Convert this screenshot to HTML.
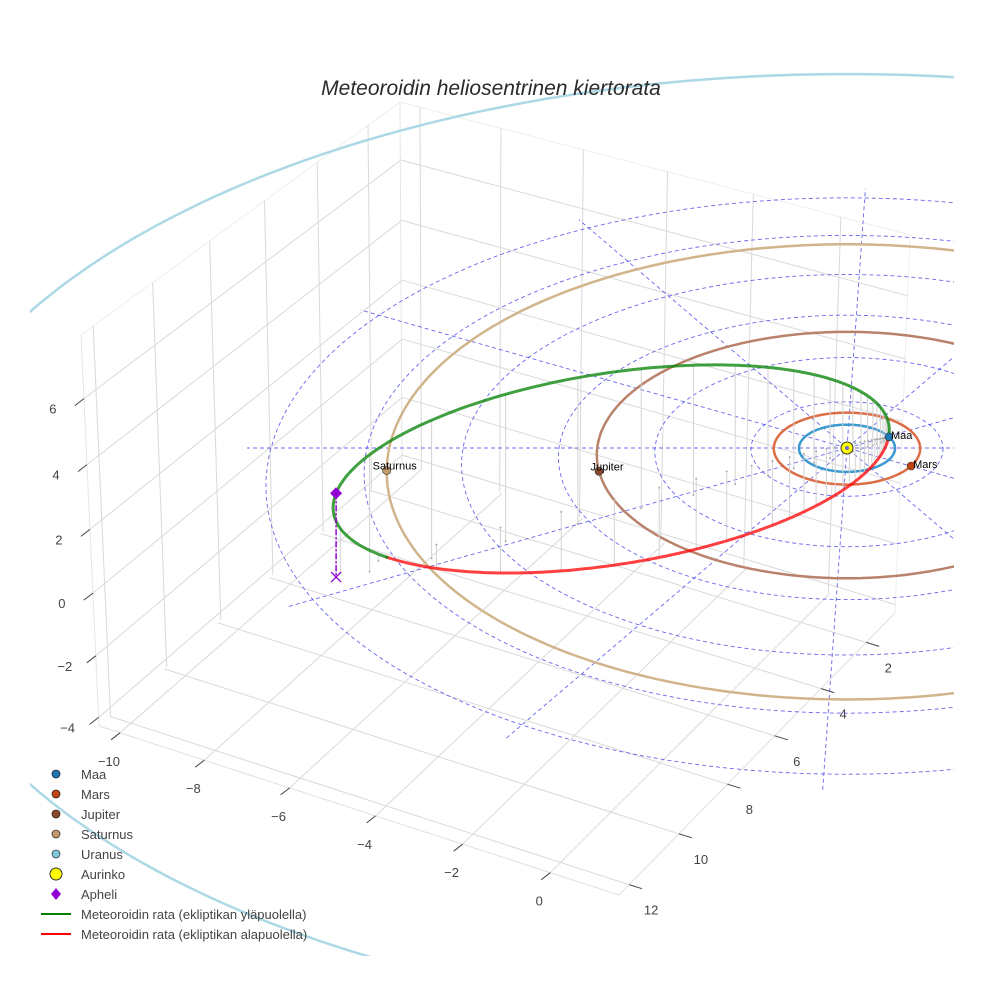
<!DOCTYPE html>
<html><head><meta charset="utf-8">
<style>
html,body{margin:0;padding:0;background:#fff;}
svg{display:block;font-family:"Liberation Sans",sans-serif;}
</style></head>
<body>
<svg id="chart" width="984" height="984" viewBox="0 0 984 984" xmlns="http://www.w3.org/2000/svg">
  <defs>
    <clipPath id="sceneClip"><rect x="30" y="30" width="924" height="926"/></clipPath>
  </defs>
  <rect x="0" y="0" width="984" height="984" fill="#fff"/>
  <g id="box"></g>
  <g id="ticks"></g>
  <g id="data" clip-path="url(#sceneClip)"></g>
  <text x="491" y="95" text-anchor="middle" font-size="21" font-style="italic" fill="#2a2a2a">Meteoroidin heliosentrinen kiertorata</text>
  <g id="legend" font-size="13" fill="#444">
    <g><circle cx="56" cy="774" r="4" fill="#1f77b4" stroke="#223" stroke-width="0.8"/><text x="81" y="779">Maa</text></g>
    <g><circle cx="56" cy="794" r="4" fill="#c1440e" stroke="#322" stroke-width="0.8"/><text x="81" y="799">Mars</text></g>
    <g><circle cx="56" cy="814" r="4" fill="#8b4a2b" stroke="#322" stroke-width="0.8"/><text x="81" y="819">Jupiter</text></g>
    <g><circle cx="56" cy="834" r="4" fill="#c19a6b" stroke="#433" stroke-width="0.8"/><text x="81" y="839">Saturnus</text></g>
    <g><circle cx="56" cy="854" r="4" fill="#7fc7d9" stroke="#344" stroke-width="0.8"/><text x="81" y="859">Uranus</text></g>
    <g><circle cx="56" cy="874" r="6" fill="#ffff00" stroke="#333" stroke-width="1"/><text x="81" y="879">Aurinko</text></g>
    <g><path d="M56 888 L61 894 L56 900 L51 894 Z" fill="#9400d3"/><text x="81" y="899">Apheli</text></g>
    <g><line x1="41" y1="914" x2="71" y2="914" stroke="#008000" stroke-width="2"/><text x="81" y="919">Meteoroidin rata (ekliptikan yläpuolella)</text></g>
    <g><line x1="41" y1="934" x2="71" y2="934" stroke="#ff0000" stroke-width="2"/><text x="81" y="939">Meteoroidin rata (ekliptikan alapuolella)</text></g>
  </g>
</svg>
<script>
// ---- data arrays ----
const planetNames = ['Maa','Mars','Jupiter','Saturnus','Uranus'];
const planetRadii = [1.0, 1.524, 5.203, 9.537, 19.19];
const planetAngles = [-28.4, 29.7, 169.2, 174.3, -50];
const orbitColors = ['#3d9ad1','#dc6d45','#b9826a','#d2b48c','#add8e6'];
const markerColors = ['#1f77b4','#c1440e','#8b4a2b','#c19a6b','#7fc7d9'];
const gridRadii = [2, 4, 6, 8, 10, 12];
const spokeAngles = [0, 30, 60, 92, 120, 150];
const spokeLength = [12.5];
const meteorSemiLatus = [1.762];
const meteorEcc = [0.848];
const meteorNode = [154];
const meteorIncl = [95.1];
const meteorAphArg = [13.2];
const xTicks = [-10, -8, -6, -4, -2, 0];
const yTicks = [2, 4, 6, 8, 10, 12];
const zTicks = [-4, -2, 0, 2, 4, 6];
const xRange = [-10.5, 1.55];
const yRange = [0.7, 12.4];
const zRange = [-4.28, 7.9];

const NS = 'http://www.w3.org/2000/svg';
function mk(tag, parent){ const e = document.createElementNS(NS, tag); parent.appendChild(e); return e; }

// ---- projection of data (heliocentric ecliptic frame) ----
const SUN = [847, 448], SX = 48, SY = 23.6, SZ = 30, ALPHA = 0.011;
function proj(X, Y, Z){
  const k = 1 / (1 - ALPHA * Y);
  return [SUN[0] + SX * X * k, SUN[1] + SY * Y * k - SZ * Z * k];
}
function polar(r, deg, z){ const a = deg * Math.PI / 180; return proj(r*Math.cos(a), r*Math.sin(a), z||0); }

// ---- box faces (homographies) ----
function quad(p0,p1,p2,p3){
  const [x0,y0]=p0,[x1,y1]=p1,[x2,y2]=p2,[x3,y3]=p3;
  const dx1=x1-x2, dx2=x3-x2, dx3=x0-x1+x2-x3, dy1=y1-y2, dy2=y3-y2, dy3=y0-y1+y2-y3;
  const den = dx1*dy2 - dx2*dy1;
  const g = (dx3*dy2 - dx2*dy3)/den, h = (dx1*dy3 - dx3*dy1)/den;
  const a=x1-x0+g*x1, b=x3-x0+h*x3, c=x0, d=y1-y0+g*y1, e=y3-y0+h*y3, f=y0;
  return (u,v)=>{ const w=g*u+h*v+1; return [(a*u+b*v+c)/w,(d*u+e*v+f)/w]; };
}
const B=[402,463], R=[895,613], F=[619,895], L=[99,726], Bt=[400,102], Lt=[81,335], Rt=[910,235];
const floorF = quad(B,R,F,L);
const leftF = quad(B,L,Lt,Bt);
const rightF = quad(B,R,Rt,Bt);
const fx = x => (x - xRange[0])/(xRange[1]-xRange[0]);
const fy = y => (y - yRange[0])/(yRange[1]-yRange[0]);
const fz = z => (z - zRange[0])/(zRange[1]-zRange[0]);

const box = document.getElementById('box');
function seg(parent, a, b, col, w, name){
  const l = mk('line', parent);
  
  
  l.setAttribute('x1', a[0].toFixed(1)); l.setAttribute('y1', a[1].toFixed(1));
  l.setAttribute('x2', b[0].toFixed(1)); l.setAttribute('y2', b[1].toFixed(1));
  l.setAttribute('stroke', col); l.setAttribute('stroke-width', w);
  return l;
}
const GC = '#d9d9d9';
seg(box, B, Bt, '#e6e6e6', 1, 'back-edge');
seg(box, L, Lt, '#e6e6e6', 1, 'left-edge');
seg(box, R, Rt, '#eeeeee', 1, 'right-edge');
seg(box, Lt, Bt, '#eeeeee', 1, 'left-top-edge');
seg(box, Bt, Rt, '#eeeeee', 1, 'right-top-edge');
seg(box, L, F, '#e0e0e0', 1, 'floor-front-left-edge');
seg(box, F, R, '#e0e0e0', 1, 'floor-front-right-edge');
xTicks.forEach(x=>{
  seg(box, floorF(fx(x),0), floorF(fx(x),1), GC, 1, 'floor-grid-x');
  seg(box, rightF(fx(x),0), rightF(fx(x),1), GC, 1, 'wall-grid-x');
});
yTicks.forEach(y=>{
  seg(box, floorF(0,fy(y)), floorF(1,fy(y)), GC, 1, 'floor-grid-y');
  seg(box, leftF(fy(y),0), leftF(fy(y),1), GC, 1, 'wall-grid-y');
});
zTicks.forEach(z=>{
  seg(box, leftF(0,fz(z)), leftF(1,fz(z)), GC, 1, 'wall-grid-z-left');
  seg(box, rightF(0,fz(z)), rightF(1,fz(z)), GC, 1, 'wall-grid-z-right');
});

// ---- ticks & labels ----
const tk = document.getElementById('ticks');
function label(p, txt, name){
  const t = mk('text', tk);
  
  
  t.setAttribute('x', p[0].toFixed(1)); t.setAttribute('y', p[1].toFixed(1));
  t.setAttribute('text-anchor', 'middle'); t.setAttribute('font-size', '13'); t.setAttribute('fill', '#444');
  t.textContent = txt;
}
const fmt = v => v < 0 ? '\u2212' + Math.abs(v) : String(v);
xTicks.forEach(x=>{
  const e = floorF(fx(x),1);
  seg(tk, e, [e[0]-9, e[1]+7], '#444', 1, 'x-tick');
  label([e[0]-11, e[1]+33], fmt(x), 'x-tick-label');
});
yTicks.forEach(y=>{
  const e = floorF(1,fy(y));
  seg(tk, e, [e[0]+13, e[1]+4], '#444', 1, 'y-tick');
  label([e[0]+22, e[1]+30], fmt(y), 'y-tick-label');
});
zTicks.forEach(z=>{
  const e = leftF(1,fz(z));
  seg(tk, e, [e[0]-9, e[1]+7], '#444', 1, 'z-tick');
  label([e[0]-31, e[1]+15], fmt(z), 'z-tick-label');
});

// ---- data ----
const dg = document.getElementById('data');
function path(parent, pts, name){
  const p = mk('path', parent);
  
  
  p.setAttribute('d', pts.map((q,i)=>(i?'L':'M')+q[0].toFixed(1)+' '+q[1].toFixed(1)).join(''));
  p.setAttribute('fill', 'none');
  return p;
}
gridRadii.forEach(r=>{
  const pts=[]; for(let i=0;i<=180;i++) pts.push(polar(r, i*2));
  const p = path(dg, pts, 'ecliptic-grid-circle');
  p.setAttribute('stroke', 'rgba(40,40,230,0.7)'); p.setAttribute('stroke-width', '0.9'); p.setAttribute('stroke-dasharray', '4,3');
});
spokeAngles.forEach(a=>{
  const p = path(dg, [polar(spokeLength[0], a), polar(spokeLength[0], a+180)], 'ecliptic-grid-spoke');
  p.setAttribute('stroke', 'rgba(40,40,230,0.7)'); p.setAttribute('stroke-width', '0.9'); p.setAttribute('stroke-dasharray', '4,3');
});
planetRadii.forEach((r,i)=>{
  const pts=[]; for(let j=0;j<=360;j++) pts.push(polar(r, j));
  const p = path(dg, pts, 'orbit-' + planetNames[i].toLowerCase());
  p.setAttribute('stroke', orbitColors[i]); p.setAttribute('stroke-width', '2.5');
});
const P = meteorSemiLatus[0], E = meteorEcc[0];
const om = meteorNode[0]*Math.PI/180, inc = meteorIncl[0]*Math.PI/180, phA = meteorAphArg[0]*Math.PI/180;
function meteor(nuDeg){
  const nu = nuDeg*Math.PI/180, r = P/(1+E*Math.cos(nu)), ph = nu + phA + Math.PI;
  const a = r*Math.cos(ph), b = r*Math.sin(ph)*Math.cos(inc);
  return [a*Math.cos(om) - b*Math.sin(om), a*Math.sin(om) + b*Math.cos(om), r*Math.sin(ph)*Math.sin(inc)];
}
const samples=[]; for(let i=0;i<=720;i++) samples.push(meteor(-180 + i*0.5));
samples.forEach((s,i)=>{
  if(i%12!==0) return;
  const a = proj(s[0],s[1],s[2]), b = proj(s[0],s[1],0);
  seg(dg, a, b, '#d2d2d2', 1, 'drop-line');
  const d = mk('circle', dg);
  
  
  d.setAttribute('cx', b[0].toFixed(1)); d.setAttribute('cy', b[1].toFixed(1)); d.setAttribute('r', '1'); d.setAttribute('fill', '#aaa');
});
let cur=[], curSign=samples[0][2]>=0;
function flush(){
  if(cur.length<2) return;
  const p = path(dg, cur, curSign ? 'meteoroid-orbit-above' : 'meteoroid-orbit-below');
  p.setAttribute('stroke', curSign ? 'rgba(0,128,0,0.75)' : 'rgba(255,0,0,0.75)');
  p.setAttribute('stroke-width', '3'); p.setAttribute('stroke-linecap', 'round');
}
samples.forEach(s=>{
  const sg = s[2]>=0, q = proj(s[0],s[1],s[2]);
  if(sg!==curSign){ cur.push(q); flush(); cur=[q]; curSign=sg; } else cur.push(q);
});
flush();
const aph = meteor(180), aphTop = proj(aph[0],aph[1],aph[2]), aphBot = proj(aph[0],aph[1],0);
const al = seg(dg, aphTop, aphBot, '#9400d3', 1.5, 'aphelion-drop-line');
al.setAttribute('stroke-dasharray', '6,2,2,2');
const x1 = mk('path', dg);


x1.setAttribute('d', `M${aphBot[0]-5} ${aphBot[1]-5}L${aphBot[0]+5} ${aphBot[1]+5}M${aphBot[0]-5} ${aphBot[1]+5}L${aphBot[0]+5} ${aphBot[1]-5}`);
x1.setAttribute('stroke', '#9400d3'); x1.setAttribute('stroke-width', '1.3');
const dm = mk('path', dg);


dm.setAttribute('d', `M${aphTop[0]} ${aphTop[1]-6}L${aphTop[0]+6} ${aphTop[1]}L${aphTop[0]} ${aphTop[1]+6}L${aphTop[0]-6} ${aphTop[1]}Z`);
dm.setAttribute('fill', '#9400d3');
const sun = proj(0,0,0);
const sc = mk('circle', dg);


sc.setAttribute('cx', sun[0]); sc.setAttribute('cy', sun[1]); sc.setAttribute('r', '6'); sc.setAttribute('fill', '#ffff00'); sc.setAttribute('stroke', '#333'); sc.setAttribute('stroke-width', '1');
const sc2 = mk('circle', dg);


sc2.setAttribute('cx', sun[0]); sc2.setAttribute('cy', sun[1]); sc2.setAttribute('r', '2'); sc2.setAttribute('fill', '#6a6ad0');
planetNames.forEach((n,i)=>{
  const q = polar(planetRadii[i], planetAngles[i]);
  const c = mk('circle', dg);
  
  
  c.setAttribute('cx', q[0].toFixed(1)); c.setAttribute('cy', q[1].toFixed(1)); c.setAttribute('r', '4');
  c.setAttribute('fill', markerColors[i]); c.setAttribute('stroke', '#333'); c.setAttribute('stroke-width', '0.6');
  const t = mk('text', dg);
  
  
  const side = i < 2;
  t.setAttribute('x', (q[0] + (side ? 2 : 8)).toFixed(1));
  t.setAttribute('y', (q[1] + (side ? 2 : -1)).toFixed(1));
  t.setAttribute('text-anchor', side ? 'start' : 'middle');
  t.setAttribute('font-size', '11'); t.setAttribute('fill', '#000');
  t.textContent = n;
});
</script>
</body></html>
